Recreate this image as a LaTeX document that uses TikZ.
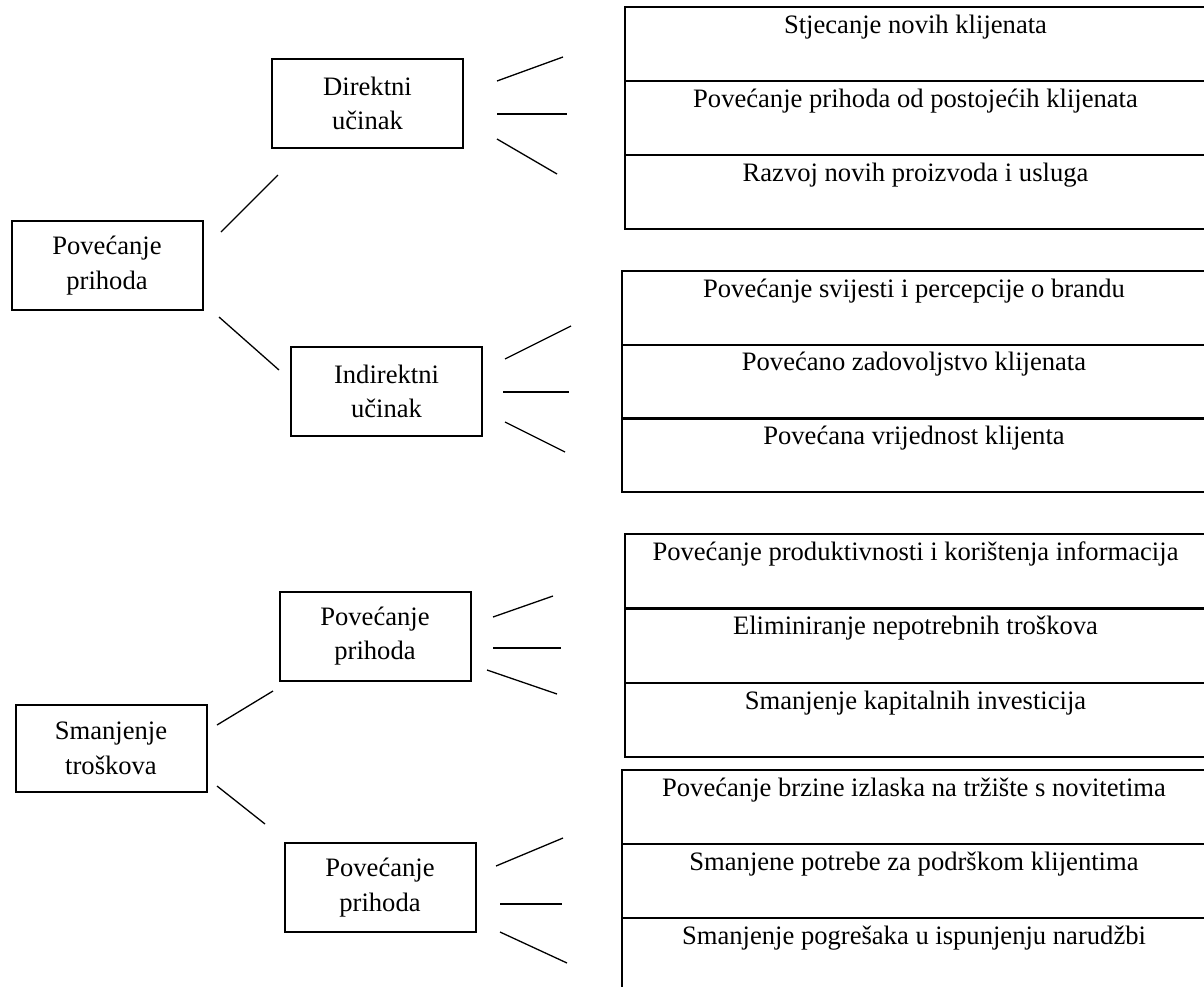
\documentclass[tikz,border=0pt]{standalone}
\usepackage{fontspec}
\setmainfont{Liberation Serif}
\begin{document}
\begin{tikzpicture}[x=0.5pt,y=-0.5pt,
  box/.style={draw, line width=1pt, minimum width=95.5pt, minimum height=44.5pt,
    align=center, inner sep=0pt, outer sep=0pt, font=\fontsize{13.3}{17.3}\selectfont},
  cell/.style={draw, line width=1pt, anchor=north west, inner sep=0pt, outer sep=0pt,
    text height=13pt, text depth=24pt, font=\fontsize{13.3}{16}\selectfont},
  cellA/.style={cell, minimum width=290.5pt},
  cellB/.style={cell, minimum width=292pt},
  conn/.style={line width=0.65pt}]
\clip (0,0) rectangle (1204,986);
\fill[white] (0,0) rectangle (1204,986);

% left and middle boxes
\node[box] (rev)  at (107,265.5) {Povećanje\\prihoda};
\node[box] (dir)  at (367.5,103.5) {Direktni\\učinak};
\node[box] (ind)  at (386.5,391.5) {Indirektni\\učinak};
\node[box, minimum height=43.5pt] (cost) at (111,748.5) {Smanjenje\\troškova};
\node[box] (revA) at (375,636) {Povećanje\\prihoda};
\node[box] (revB) at (380,887.5) {Povećanje\\prihoda};

% right groups
\node[cellA] (g1a) at (625,7) {Stjecanje novih klijenata};
\node[cellA] (g1b) at (625,81) {Povećanje prihoda od postojećih klijenata};
\node[cellA] (g1c) at (625,155) {Razvoj novih proizvoda i usluga};

\node[cellB] (g2a) at (622,271) {Povećanje svijesti i percepcije o brandu};
\node[cellB] (g2b) at (622,344.5) {Povećano zadovoljstvo klijenata};
\node[cellB] (g2c) at (622,418) {Povećana vrijednost klijenta};

\node[cellA] (g3a) at (625,534) {Povećanje produktivnosti i korištenja informacija};
\node[cellA] (g3b) at (625,608.5) {Eliminiranje nepotrebnih troškova};
\node[cellA] (g3c) at (625,683) {Smanjenje kapitalnih investicija};

\node[cellB] (g4a) at (622,770) {Povećanje brzine izlaska na tržište s novitetima};
\node[cellB] (g4b) at (622,844) {Smanjene potrebe za podrškom klijentima};
\node[cellB] (g4c) at (622,918) {Smanjenje pogrešaka u ispunjenju narudžbi};

% connector end points
\coordinate (a1) at (221,232); \coordinate (a2) at (278,175);
\coordinate (b1) at (219,317); \coordinate (b2) at (279,370);
\coordinate (c1) at (497,81);  \coordinate (c2) at (563,57);
\coordinate (c3) at (497,114); \coordinate (c4) at (567,114);
\coordinate (c5) at (497,139); \coordinate (c6) at (557,174);
\coordinate (d1) at (505,359); \coordinate (d2) at (571,326);
\coordinate (d3) at (503,392); \coordinate (d4) at (569,392);
\coordinate (d5) at (505,422); \coordinate (d6) at (565,452);
\coordinate (e1) at (217,725); \coordinate (e2) at (273,691);
\coordinate (f1) at (217,786); \coordinate (f2) at (265,824);
\coordinate (h1) at (493,617); \coordinate (h2) at (553,596);
\coordinate (h3) at (493,648); \coordinate (h4) at (561,648);
\coordinate (h5) at (487,670); \coordinate (h6) at (557,694);
\coordinate (k1) at (496,866); \coordinate (k2) at (563,838);
\coordinate (k3) at (500,904); \coordinate (k4) at (562,904);
\coordinate (k5) at (500,932); \coordinate (k6) at (567,963);

\draw[conn] (a1) -- (a2);
\draw[conn] (b1) -- (b2);
\draw[conn] (c1) -- (c2);
\draw[conn] (c3) -- (c4);
\draw[conn] (c5) -- (c6);
\draw[conn] (d1) -- (d2);
\draw[conn] (d3) -- (d4);
\draw[conn] (d5) -- (d6);
\draw[conn] (e1) -- (e2);
\draw[conn] (f1) -- (f2);
\draw[conn] (h1) -- (h2);
\draw[conn] (h3) -- (h4);
\draw[conn] (h5) -- (h6);
\draw[conn] (k1) -- (k2);
\draw[conn] (k3) -- (k4);
\draw[conn] (k5) -- (k6);
\end{tikzpicture}
\end{document}
